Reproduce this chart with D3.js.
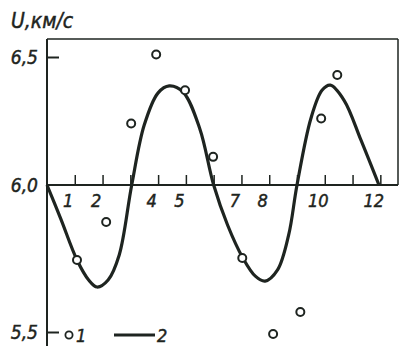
<!DOCTYPE html>
<html>
<head>
<meta charset="utf-8">
<script src="https://cdn.jsdelivr.net/npm/d3@7"></script>
<style>
  html, body { margin: 0; padding: 0; background: #fff; }
  svg text { font-family: "DejaVu Sans Condensed", "Liberation Sans Narrow", "DejaVu Sans", sans-serif; font-style: italic; fill: #1e2420; stroke: #1e2420; stroke-width: 0.45px; }
</style>
</head>
<body>
<div id="chart"></div>
<script>
  // months on the x axis, only some of them carry a label
  var monthTicks = [1, 2, 3, 4, 5, 6, 7, 8, 9, 10, 11, 12];
  var monthLabels = {1: "1", 2: "2", 4: "4", 5: "5", 7: "7", 8: "8", 10: "10", 12: "12"};

  var velocityTicks = [5.5, 6.0, 6.5];
  var velocityLabels = {5.5: "5,5", 6: "6,0", 6.5: "6,5"};

  // 1 - observed values
  var obsMonth = [1.08, 2.13, 3.03, 3.93, 4.97, 5.98, 7.03, 8.14, 9.12, 9.87, 10.45];
  var obsVelocity = [5.745, 5.874, 6.24, 6.51, 6.37, 6.11, 5.752, 5.493, 5.568, 6.26, 6.43];

  // 2 - smoothed curve
  var curveMonth = [0, 0.5, 1.08, 1.5, 1.8, 2.2, 2.6, 3.05, 3.5, 4.0, 4.4, 4.9, 5.5, 6.0, 6.5, 7.05, 7.5, 7.85, 8.3, 8.7, 9.0, 9.5, 9.9, 10.2, 10.7, 11.3, 11.95];
  var curveVelocity = [6.0, 5.884, 5.745, 5.677, 5.653, 5.677, 5.762, 6.0, 6.234, 6.36, 6.387, 6.363, 6.22, 6.0, 5.864, 5.752, 5.69, 5.673, 5.711, 5.83, 6.0, 6.26, 6.37, 6.39, 6.33, 6.176, 6.0];

  var yTitle = "U,км/с";
  var legendLabels = ["1", "2"];

  var width = 400, height = 346;
  var ink = "#1e2420";

  var svg = d3.select("#chart").append("svg")
      .attr("width", width)
      .attr("height", height);

  var x = d3.scaleLinear().domain([0, 12.6]).range([47, 397]);
  // the scanned axis is not quite linear, so it is split at 6.0
  var y = d3.scaleLinear().domain([5.5, 6.0, 6.5]).range([332, 185, 57]);

  // frame: left axis, top and right border
  svg.append("line").attr("x1", x(0)).attr("x2", x(0)).attr("y1", 39).attr("y2", height)
      .attr("stroke", ink).attr("stroke-width", 2);
  svg.append("line").attr("x1", x(0)).attr("x2", 398).attr("y1", 39).attr("y2", 39)
      .attr("stroke", ink).attr("stroke-width", 1.5);
  svg.append("line").attr("x1", 398).attr("x2", 398).attr("y1", 39).attr("y2", y(6.0))
      .attr("stroke", ink).attr("stroke-width", 1.5);

  // x axis along v = 6.0, ticks upward, labels below
  var xAxis = d3.axisBottom(x)
      .tickValues(monthTicks)
      .tickSize(-10)
      .tickPadding(9)
      .tickFormat(d => monthLabels[d] || "");

  var gx = svg.append("g")
      .attr("transform", `translate(0,${y(6.0)})`)
      .call(xAxis);
  gx.select(".domain").remove();
  gx.append("line").attr("x1", x(0)).attr("x2", 398)
      .attr("stroke", ink).attr("stroke-width", 2);
  gx.selectAll(".tick line").attr("stroke", ink).attr("stroke-width", 1.5);
  gx.selectAll(".tick text")
      .attr("font-size", 18)
      .attr("dx", -7)
      .attr("fill", ink);

  // y axis ticks pointing into the plot
  var yAxis = d3.axisLeft(y)
      .tickValues(velocityTicks)
      .tickSize(-12)
      .tickPadding(9)
      .tickFormat(d => velocityLabels[d]);

  var gy = svg.append("g")
      .attr("transform", `translate(${x(0)},0)`)
      .call(yAxis);
  gy.select(".domain").remove();
  gy.selectAll(".tick line").attr("stroke", ink).attr("stroke-width", 2);
  gy.selectAll(".tick text")
      .attr("font-size", 19)
      .attr("fill", ink);
  gy.selectAll(".tick").filter(d => d === 6.0).select("line").remove();

  svg.append("text")
      .attr("x", 11)
      .attr("y", 28)
      .attr("font-size", 21)
      .text(yTitle);

  // smoothed curve
  var pts = curveMonth.map((m, i) => [m, curveVelocity[i]]);
  var line = d3.line()
      .x(d => x(d[0]))
      .y(d => y(d[1]))
      .curve(d3.curveCatmullRom.alpha(0.5));

  svg.append("path")
      .datum(pts)
      .attr("d", line)
      .attr("fill", "none")
      .attr("stroke", ink)
      .attr("stroke-width", 3.2)
      .attr("stroke-linejoin", "round");

  // observed points
  svg.selectAll("circle.obs")
    .data(obsMonth.map((m, i) => [m, obsVelocity[i]]))
    .join("circle")
      .attr("class", "obs")
      .attr("cx", d => x(d[0]))
      .attr("cy", d => y(d[1]))
      .attr("r", 4)
      .attr("fill", "#fff")
      .attr("stroke", ink)
      .attr("stroke-width", 2);

  // legend
  var ly = 335;
  var legend = svg.append("g");
  legend.append("circle").attr("cx", 69).attr("cy", ly).attr("r", 3.6)
      .attr("fill", "#fff").attr("stroke", ink).attr("stroke-width", 1.8);
  legend.append("text").attr("x", 76).attr("y", ly + 7).attr("font-size", 18).text(legendLabels[0]);
  legend.append("line").attr("x1", 114).attr("x2", 155).attr("y1", ly).attr("y2", ly)
      .attr("stroke", ink).attr("stroke-width", 3);
  legend.append("text").attr("x", 157).attr("y", ly + 7).attr("font-size", 18).text(legendLabels[1]);
</script>
</body>
</html>
